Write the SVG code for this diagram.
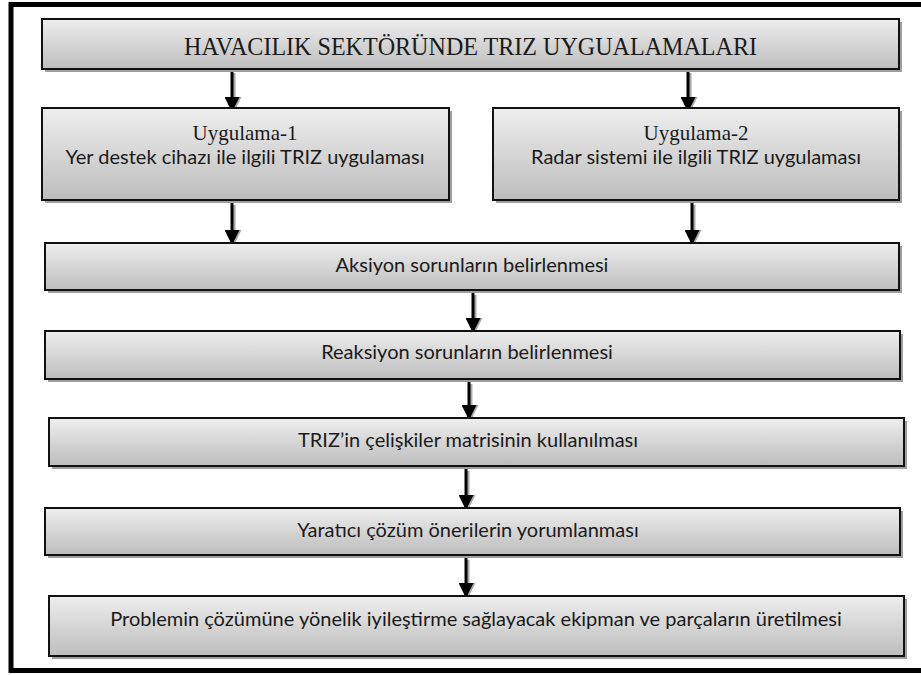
<svg xmlns="http://www.w3.org/2000/svg" width="921" height="675" viewBox="0 0 921 675">
<defs>
<linearGradient id="g" x1="0" y1="0" x2="0" y2="1">
<stop offset="0" stop-color="#eeeeee"/>
<stop offset="1" stop-color="#bdbdbd"/>
</linearGradient>
<marker id="ah" markerWidth="15" markerHeight="15" refX="15" refY="7.5" orient="auto" markerUnits="userSpaceOnUse" viewBox="0 0 15 15">
<path d="M0,0 L15,7.5 L0,15 Z" fill="#000"/>
</marker>
<marker id="ahs" markerWidth="15" markerHeight="15" refX="15" refY="7.5" orient="auto" markerUnits="userSpaceOnUse" viewBox="0 0 15 15">
<path d="M0,0 L15,7.5 L0,15 Z" fill="#a8a8a8"/>
</marker>
</defs>
<style>
.sh{fill:#9e9e9e}
.bx{fill:url(#g);stroke:#111;stroke-width:2}
.ser{font-family:"Liberation Serif","DejaVu Serif",serif;fill:#1a1a1a;text-anchor:middle}
.san{font-family:Lato,"Liberation Sans",sans-serif;font-size:20px;fill:#1a1a1a;text-anchor:middle}
.ar{stroke:#000;stroke-width:3;fill:none}
.as{stroke:#a8a8a8;stroke-width:3;fill:none}
</style>
<rect x="11" y="4.5" width="930" height="666" fill="none" stroke="#000" stroke-width="5"/>
<g id="connectors">
<g transform="translate(2,2)">
<line class="as" x1="232" y1="71" x2="232" y2="110" marker-end="url(#ahs)"/>
<line class="as" x1="688" y1="71" x2="688" y2="110" marker-end="url(#ahs)"/>
<line class="as" x1="232" y1="203" x2="232" y2="243" marker-end="url(#ahs)"/>
<line class="as" x1="692" y1="203" x2="692" y2="243" marker-end="url(#ahs)"/>
<line class="as" x1="473" y1="293" x2="473" y2="331" marker-end="url(#ahs)"/>
<line class="as" x1="469" y1="382" x2="469" y2="418" marker-end="url(#ahs)"/>
<line class="as" x1="466" y1="469" x2="466" y2="508" marker-end="url(#ahs)"/>
<line class="as" x1="466" y1="558" x2="466" y2="596" marker-end="url(#ahs)"/>
</g>
<line class="ar" x1="232" y1="69" x2="232" y2="112" marker-end="url(#ah)"/>
<line class="ar" x1="688" y1="69" x2="688" y2="112" marker-end="url(#ah)"/>
<line class="ar" x1="232" y1="200" x2="232" y2="245" marker-end="url(#ah)"/>
<line class="ar" x1="692" y1="200" x2="692" y2="245" marker-end="url(#ah)"/>
<line class="ar" x1="473" y1="290" x2="473" y2="333" marker-end="url(#ah)"/>
<line class="ar" x1="469" y1="379" x2="469" y2="420" marker-end="url(#ah)"/>
<line class="ar" x1="466" y1="466" x2="466" y2="510" marker-end="url(#ah)"/>
<line class="ar" x1="466" y1="555" x2="466" y2="598" marker-end="url(#ah)"/>
</g>
<g id="title">
<rect class="sh" x="45" y="22" width="857" height="50"/>
<rect class="bx" x="42" y="19" width="857" height="50"/>
<text class="ser" x="470.5" y="55" font-size="25" textLength="573" lengthAdjust="spacingAndGlyphs">HAVACILIK SEKTÖRÜNDE TRIZ UYGUALAMALARI</text>
</g>
<g id="uyg1">
<rect class="sh" x="45" y="111" width="407" height="92"/>
<rect class="bx" x="42" y="108" width="407" height="92"/>
<text class="ser" x="245" y="140" font-size="21">Uygulama-1</text>
<text class="san" x="245" y="164">Yer destek cihazı ile ilgili TRIZ uygulaması</text>
</g>
<g id="uyg2">
<rect class="sh" x="496" y="111" width="406" height="92"/>
<rect class="bx" x="493" y="108" width="406" height="92"/>
<text class="ser" x="696" y="140" font-size="21">Uygulama-2</text>
<text class="san" x="696" y="164">Radar sistemi ile ilgili TRIZ uygulaması</text>
</g>
<g id="aksiyon">
<rect class="sh" x="48" y="246" width="854" height="47"/>
<rect class="bx" x="45" y="243" width="854" height="47"/>
<text class="san" x="472" y="272">Aksiyon sorunların belirlenmesi</text>
</g>
<g id="reaksiyon">
<rect class="sh" x="48" y="334" width="855" height="48"/>
<rect class="bx" x="45" y="331" width="855" height="48"/>
<text class="san" x="467" y="359">Reaksiyon sorunların belirlenmesi</text>
</g>
<g id="triz">
<rect class="sh" x="52" y="421" width="855" height="48"/>
<rect class="bx" x="49" y="418" width="855" height="48"/>
<text class="san" x="468" y="447">TRIZ’in çelişkiler matrisinin kullanılması</text>
</g>
<g id="yaratici">
<rect class="sh" x="48" y="511" width="855" height="47"/>
<rect class="bx" x="45" y="508" width="855" height="47"/>
<text class="san" x="468" y="537">Yaratıcı çözüm önerilerin yorumlanması</text>
</g>
<g id="problem">
<rect class="sh" x="52" y="599" width="855" height="60"/>
<rect class="bx" x="49" y="596" width="855" height="60"/>
<text class="san" x="476" y="626">Problemin çözümüne yönelik iyileştirme sağlayacak ekipman ve parçaların üretilmesi</text>
</g>
</svg>
